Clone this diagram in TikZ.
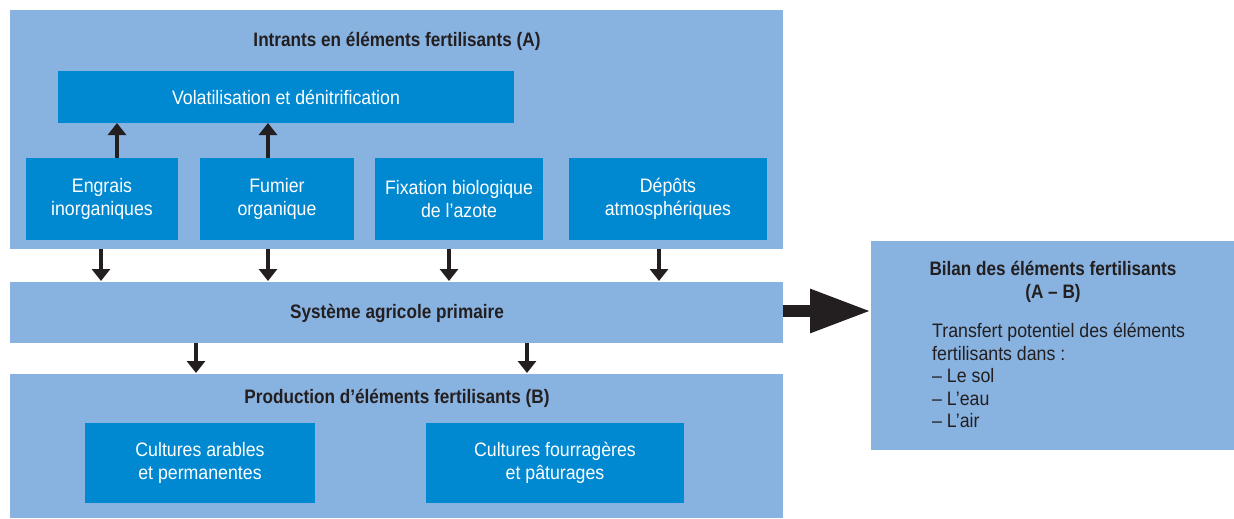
\documentclass[tikz,border=0pt]{standalone}
\usepackage{fontspec}
\setmainfont{Liberation Sans}[FakeStretch=0.91, BoldFeatures={FakeStretch=0.88}]
\usetikzlibrary{arrows.meta}
\definecolor{outerblue}{HTML}{88B2E0}
\definecolor{innerblue}{HTML}{0088D1}
\definecolor{ink}{HTML}{231F20}
\begin{document}
\begin{tikzpicture}[x=1pt,y=-1pt,
  font=\fontsize{19.5}{22.5}\selectfont,
  outerbox/.style={fill=outerblue, draw=none, anchor=north west, inner sep=0, outer sep=0},
  innerbox/.style={fill=innerblue, draw=none, anchor=north west, inner sep=0, outer sep=0, text=white, align=center},
  titletext/.style={font=\fontsize{19.5}{22.7}\selectfont\bfseries, text=ink, align=center, inner sep=0},
  arr/.style={draw=ink, line width=3.2pt, -{Triangle[length=12pt,width=18pt]}},
  bigarr/.style={draw=ink, line width=12pt, -{Triangle[length=61pt,width=41pt]}}]
\useasboundingbox (0,0) rectangle (1234,519);
% outer boxes
\node[outerbox, minimum width=773pt, minimum height=239pt] (A) at (10,10) {};
\node[outerbox, minimum width=773pt, minimum height=61pt] (S) at (10,282) {};
\node[outerbox, minimum width=773pt, minimum height=144pt] (B) at (10,374) {};
\node[outerbox, minimum width=363pt, minimum height=209pt] (bilan) at (871,241) {};
% titles
\node[titletext] (tA) at (397,41) {Intrants en éléments fertilisants (A)};
\node[titletext] (tS) at (397,313) {Système agricole primaire};
\node[titletext] (tB) at (397,398) {Production d’éléments fertilisants (B)};
\node[titletext] (tbilan) at (1053,282) {Bilan des éléments fertilisants\\(A – B)};
\node[text=ink, align=left, anchor=north west, inner sep=0, font=\fontsize{19.5}{22.6}\selectfont] (tbody) at (932,323)
  {Transfert potentiel des éléments\\fertilisants dans :\\– Le sol\\– L’eau\\– L’air};
% inner boxes
\node[innerbox, minimum width=456pt, minimum height=52pt] (vol) at (58,71) {Volatilisation et dénitrification};
\node[innerbox, minimum width=152pt, minimum height=82pt] (engrais) at (26,158) {Engrais\\inorganiques};
\node[innerbox, minimum width=154pt, minimum height=82pt] (fumier) at (200,158) {Fumier\\organique};
\node[innerbox, minimum width=168pt, minimum height=82pt] (fix) at (375,158) {Fixation biologique\\de l’azote};
\node[innerbox, minimum width=198pt, minimum height=82pt] (depots) at (569,158) {Dépôts\\atmosphériques};
\node[innerbox, minimum width=230pt, minimum height=80pt] (arables) at (85,423) {Cultures arables\\et permanentes};
\node[innerbox, minimum width=258pt, minimum height=80pt] (fourr) at (426,423) {Cultures fourragères\\et pâturages};
% arrows
\draw[arr] (engrais.north -| 117,0) -- (vol.south -| 117,0);
\draw[arr] (fumier.north -| 268,0) -- (vol.south -| 268,0);
\draw[arr] (A.south -| 101,0) -- ([yshift=1pt]S.north -| 101,0);
\draw[arr] (A.south -| 268,0) -- ([yshift=1pt]S.north -| 268,0);
\draw[arr] (A.south -| 449,0) -- ([yshift=1pt]S.north -| 449,0);
\draw[arr] (A.south -| 659,0) -- ([yshift=1pt]S.north -| 659,0);
\draw[arr] (S.south -| 196,0) -- ([yshift=1pt]B.north -| 196,0);
\draw[arr] (S.south -| 527,0) -- ([yshift=1pt]B.north -| 527,0);
\draw[bigarr] (S.east |- 0,311) -- (bilan.west |- 0,311);
\end{tikzpicture}
\end{document}
